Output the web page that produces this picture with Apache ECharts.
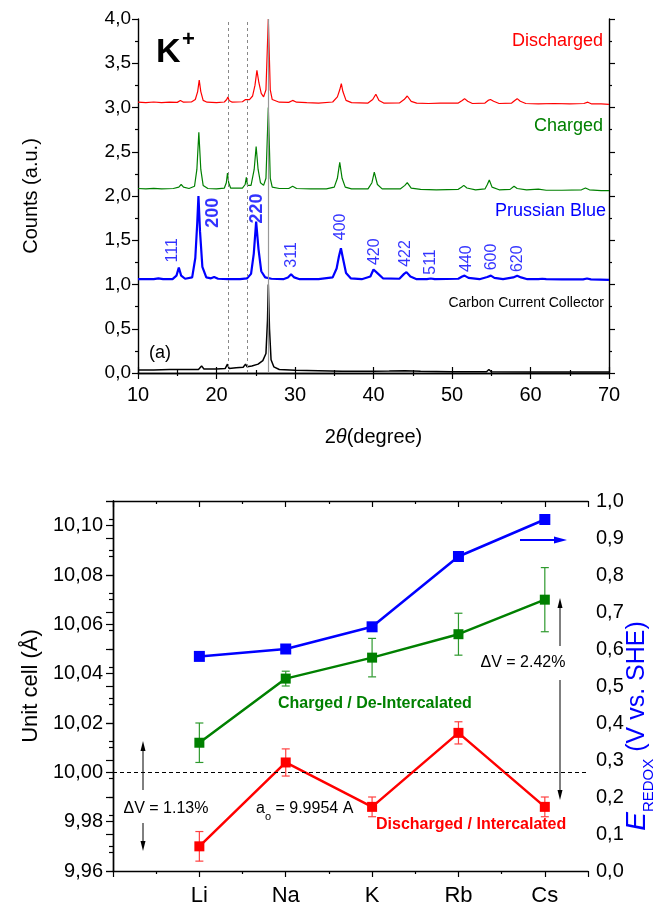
<!DOCTYPE html>
<html><head><meta charset="utf-8">
<script src="https://cdn.jsdelivr.net/npm/echarts@6/dist/echarts.min.js"></script>
<style>html,body{margin:0;padding:0;background:#fff}#c{width:661px;height:908px}</style>
</head><body><div id="c"></div>
<script>
const FONT = '"Liberation Sans", Arial, sans-serif';

// ---------- Panel (a): XRD patterns, [2theta, counts] ----------
const xrdDischarged = [[10,3.06],[11,3.055],[12,3.062],[13,3.055],[14,3.06],[15.0,3.058],[15.4,3.08],[15.8,3.06],[16.8,3.062],[17.3,3.09],[17.6,3.18],[17.8,3.31],[18.0,3.18],[18.3,3.08],[18.8,3.06],[20,3.055],[21.0,3.062],[21.3,3.09],[21.45,3.12],[21.6,3.08],[22,3.06],[23.3,3.065],[23.7,3.09],[23.9,3.1],[24.2,3.09],[24.6,3.13],[24.9,3.25],[25.15,3.42],[25.4,3.28],[25.7,3.16],[26.0,3.12],[26.3,3.2],[26.6,4.0],[26.85,3.2],[27.1,3.09],[28,3.06],[29.2,3.058],[29.7,3.08],[30.2,3.06],[31.5,3.055],[33,3.05],[34.8,3.062],[35.4,3.12],[35.7,3.2],[35.9,3.27],[36.1,3.18],[36.5,3.08],[37.2,3.055],[39.3,3.05],[39.9,3.09],[40.3,3.15],[40.7,3.08],[41.3,3.05],[43.3,3.052],[43.9,3.09],[44.3,3.13],[44.8,3.07],[45.5,3.05],[47,3.045],[48.5,3.05],[50.8,3.05],[51.3,3.08],[51.6,3.10],[52.0,3.07],[52.6,3.045],[54.2,3.05],[54.6,3.08],[54.9,3.09],[55.3,3.07],[56,3.045],[57.6,3.05],[58.0,3.08],[58.3,3.10],[58.7,3.07],[59.4,3.045],[61,3.04],[63,3.045],[65,3.04],[66.8,3.045],[67.3,3.06],[67.8,3.04],[69,3.04],[70,3.035]];
const xrdCharged = [[10,2.085],[11,2.08],[12,2.087],[13,2.08],[14.5,2.085],[15.2,2.1],[15.5,2.13],[15.8,2.1],[16.5,2.085],[17.2,2.11],[17.5,2.3],[17.75,2.72],[18.0,2.3],[18.3,2.12],[18.9,2.085],[20,2.08],[21.0,2.09],[21.25,2.15],[21.4,2.26],[21.55,2.15],[21.8,2.09],[23.3,2.09],[23.65,2.13],[23.8,2.21],[23.95,2.12],[24.4,2.12],[24.8,2.3],[25.05,2.56],[25.3,2.3],[25.6,2.15],[26.0,2.12],[26.3,2.2],[26.6,3.0],[26.85,2.2],[27.1,2.1],[28,2.085],[29.2,2.085],[29.7,2.11],[30.2,2.085],[32,2.08],[34,2.08],[35.0,2.1],[35.4,2.2],[35.7,2.38],[36.0,2.2],[36.4,2.1],[37.2,2.08],[39.3,2.08],[39.8,2.15],[40.1,2.27],[40.5,2.13],[41.1,2.08],[43.4,2.08],[44.0,2.12],[44.3,2.15],[44.8,2.09],[46,2.075],[48,2.07],[50.8,2.075],[51.2,2.1],[51.5,2.12],[51.9,2.09],[53,2.07],[54.2,2.08],[54.5,2.13],[54.75,2.18],[55.1,2.1],[56,2.07],[57.4,2.075],[57.9,2.11],[58.3,2.085],[59.5,2.07],[61,2.078],[62,2.065],[64,2.065],[66.5,2.07],[67.0,2.09],[67.5,2.07],[69,2.06],[70,2.06]];
const xrdPrussianBlue = [[10,1.06],[11,1.06],[12,1.06],[12.6,1.07],[13.2,1.06],[14.4,1.06],[14.9,1.1],[15.2,1.19],[15.5,1.1],[16.0,1.065],[16.9,1.08],[17.3,1.3],[17.55,1.7],[17.7,2.0],[17.9,1.6],[18.2,1.2],[18.7,1.08],[19.3,1.07],[19.7,1.085],[20.2,1.065],[21.5,1.06],[23,1.06],[23.9,1.07],[24.4,1.12],[24.75,1.35],[25.05,1.71],[25.35,1.4],[25.7,1.15],[26.2,1.08],[27,1.065],[28.5,1.06],[29.1,1.08],[29.5,1.115],[29.9,1.08],[30.6,1.06],[33,1.06],[34.8,1.08],[35.3,1.18],[35.6,1.32],[35.85,1.41],[36.1,1.3],[36.5,1.13],[37.1,1.07],[38.5,1.06],[39.6,1.09],[40.0,1.17],[40.25,1.19],[40.6,1.12],[41.2,1.07],[43.3,1.065],[43.9,1.12],[44.2,1.14],[44.7,1.09],[45.5,1.06],[46.8,1.06],[47.3,1.068],[47.8,1.06],[50.8,1.065],[51.3,1.09],[51.6,1.10],[52.1,1.075],[53.5,1.06],[54.5,1.085],[54.95,1.10],[55.4,1.075],[56.5,1.06],[57.8,1.08],[58.3,1.10],[58.8,1.08],[59.6,1.06],[61.0,1.06],[61.5,1.065],[62,1.06],[64,1.058],[66.7,1.058],[67.2,1.068],[67.7,1.058],[70,1.052]];
const xrdCarbon = [[10,0.035],[12,0.035],[14,0.04],[16,0.04],[17.7,0.04],[18.1,0.08],[18.4,0.045],[20,0.045],[21.1,0.05],[21.4,0.10],[21.6,0.05],[22.5,0.06],[23.4,0.065],[23.7,0.10],[23.9,0.07],[24.5,0.08],[25.3,0.1],[25.9,0.14],[26.3,0.22],[26.5,0.6],[26.6,1.0],[26.75,0.5],[26.95,0.15],[27.3,0.07],[28,0.04],[30,0.03],[33,0.025],[36,0.02],[40,0.02],[42,0.022],[44,0.025],[46,0.02],[50,0.015],[54.4,0.015],[54.7,0.04],[55.0,0.015],[60,0.012],[65,0.01],[70,0.01]];
// Miller indices: [label, 2theta of label, counts at label foot, bold]
const millerLabels = [['111',14.35,1.25,false],['200',19.55,1.64,true],['220',25.15,1.69,true],['311',29.6,1.19,false],['400',35.85,1.50,false],['420',40.2,1.22,false],['422',44.1,1.20,false],['511',47.3,1.11,false],['440',51.8,1.14,false],['600',55.1,1.16,false],['620',58.4,1.14,false]];
const refLines2Theta = [21.5, 23.9];
const carbonPeak2Theta = 26.6;
const xrdXTicks = [10, 70, 10];   // min, max, interval
const xrdYTicks = [0, 4, 0.5];

// ---------- Panel (b): unit cell and redox potential ----------
const categories = ['Li', 'Na', 'K', 'Rb', 'Cs'];
const chargedCell = [10.012, 10.038, 10.0465, 10.056, 10.070];
const chargedErr = [0.008, 0.003, 0.0078, 0.0085, 0.013];
const dischargedCell = [9.970, 10.004, 9.986, 10.016, 9.986];
const dischargedErr = [0.006, 0.0055, 0.004, 0.0045, 0.004];
const eRedox = [0.58, 0.60, 0.66, 0.85, 0.95];
const a0 = 9.9954;
const cellTicks = [9.96, 10.11, 0.02];
const redoxTicks = [0, 1.0, 0.1];

const comma = (v, d) => v.toFixed(d).replace('.', ',');
const axisCommon = { lineStyle: { color: '#000', width: 1.4 } };

function errBarSeries(vals, errs, color) {
  return {
    type: 'custom', xAxisIndex: 2, yAxisIndex: 2, z: 3, silent: true,
    data: vals.map((v, i) => [i + 1, v - errs[i], v + errs[i]]),
    encode: { x: 0, y: [1, 2] },
    renderItem: (params, api) => {
      const x = api.value(0);
      const lo = api.coord([x, api.value(1)]);
      const hi = api.coord([x, api.value(2)]);
      const hw = 4, st = { stroke: color, lineWidth: 1.2 };
      return { type: 'group', children: [
        { type: 'line', shape: { x1: lo[0], y1: lo[1], x2: hi[0], y2: hi[1] }, style: st },
        { type: 'line', shape: { x1: lo[0] - hw, y1: lo[1], x2: lo[0] + hw, y2: lo[1] }, style: st },
        { type: 'line', shape: { x1: hi[0] - hw, y1: hi[1], x2: hi[0] + hw, y2: hi[1] }, style: st }
      ] };
    }
  };
}
function vArrow(x, y1, y2, color) {
  const dir = y2 > y1 ? 1 : -1;
  return [
    { type: 'line', shape: { x1: x, y1: y1, x2: x, y2: y2 - dir * 8 }, style: { stroke: color, lineWidth: 1 } },
    { type: 'polygon', shape: { points: [[x, y2], [x - 2.5, y2 - dir * 10], [x + 2.5, y2 - dir * 10]] }, style: { fill: color } }
  ];
}
function txt(x, y, text, o, extra) {
  return Object.assign({ type: 'text', x: x, y: y, style: Object.assign({ text: text, fontFamily: FONT, fontSize: 18, fill: '#000', align: 'left', verticalAlign: 'middle' }, o || {}) }, extra || {});
}

const chart = echarts.init(document.getElementById('c'), null, { renderer: 'canvas' });
const option = {
  animation: false,
  backgroundColor: '#fff',
  textStyle: { fontFamily: FONT },
  grid: [
    { left: 138, top: 19, width: 471, height: 354 },
    { left: 113, top: 501, width: 475, height: 370 }
  ],
  xAxis: [
    { gridIndex: 0, type: 'value', position: 'bottom', min: xrdXTicks[0], max: xrdXTicks[1], interval: xrdXTicks[2],
      axisLine: axisCommon, splitLine: { show: false },
      axisTick: { length: 6, lineStyle: { color: '#000', width: 1.2 } },
      minorTick: { show: true, splitNumber: 2, length: 3, lineStyle: { color: '#000', width: 1.2 } },
      axisLabel: { fontSize: 20, color: '#000', margin: 12, fontFamily: FONT },
      name: '2{it|θ}(degree)', nameLocation: 'middle', nameGap: 54,
      nameTextStyle: { fontSize: 20, color: '#000', fontFamily: FONT, rich: { it: { fontStyle: 'italic', fontSize: 20, fontFamily: FONT } } } },
    { gridIndex: 0, type: 'value', position: 'top', min: xrdXTicks[0], max: xrdXTicks[1], interval: xrdXTicks[2],
      axisLine: axisCommon, splitLine: { show: false }, axisLabel: { show: false },
      axisTick: { length: 6, lineStyle: { color: '#000', width: 1.2 } },
      minorTick: { show: true, splitNumber: 2, length: 3, lineStyle: { color: '#000', width: 1.2 } } },
    { gridIndex: 1, type: 'value', position: 'bottom', min: 0, max: 5.5, interval: 1,
      axisLine: axisCommon, splitLine: { show: false },
      axisTick: { length: 6, lineStyle: { color: '#000', width: 1.2 } },
      minorTick: { show: true, splitNumber: 2, length: 3, lineStyle: { color: '#000', width: 1.2 } },
      axisLabel: { fontSize: 22, color: '#000', margin: 14, fontFamily: FONT,
        formatter: v => (Number.isInteger(v) && v >= 1 && v <= categories.length) ? categories[v - 1] : '' } },
    { gridIndex: 1, type: 'value', position: 'top', min: 0, max: 5.5, interval: 1,
      axisLine: axisCommon, splitLine: { show: false }, axisLabel: { show: false },
      axisTick: { inside: true, length: 6, lineStyle: { color: '#000', width: 1.2 } },
      minorTick: { show: true, splitNumber: 2, length: 3, lineStyle: { color: '#000', width: 1.2 } } }
  ],
  yAxis: [
    { gridIndex: 0, type: 'value', position: 'left', min: xrdYTicks[0], max: xrdYTicks[1], interval: xrdYTicks[2],
      axisLine: Object.assign({ show: true }, axisCommon), splitLine: { show: false },
      axisTick: { show: true, length: 6, lineStyle: { color: '#000', width: 1.2 } },
      minorTick: { show: true, splitNumber: 2, length: 3, lineStyle: { color: '#000', width: 1.2 } },
      axisLabel: { fontSize: 19, color: '#000', margin: 7, fontFamily: FONT, formatter: v => comma(v, 1) },
      name: 'Counts (a.u.)', nameLocation: 'middle', nameRotate: 90, nameGap: 97,
      nameTextStyle: { fontSize: 20, color: '#000', fontFamily: FONT } },
    { gridIndex: 0, type: 'value', position: 'right', min: xrdYTicks[0], max: xrdYTicks[1], interval: xrdYTicks[2],
      axisLine: Object.assign({ show: true }, axisCommon), splitLine: { show: false }, axisLabel: { show: false },
      axisTick: { show: true, length: 6, lineStyle: { color: '#000', width: 1.2 } },
      minorTick: { show: true, splitNumber: 2, length: 3, lineStyle: { color: '#000', width: 1.2 } } },
    { gridIndex: 1, type: 'value', position: 'left', min: cellTicks[0], max: cellTicks[1], interval: cellTicks[2],
      axisLine: Object.assign({ show: true }, axisCommon), splitLine: { show: false },
      axisTick: { show: true, length: 7, lineStyle: { color: '#000', width: 1.2 } },
      minorTick: { show: true, splitNumber: 2, length: 4, lineStyle: { color: '#000', width: 1.2 } },
      axisLabel: { fontSize: 20, color: '#000', margin: 10, fontFamily: FONT, showMaxLabel: false, formatter: v => comma(v, 2) },
      name: 'Unit cell (Å)', nameLocation: 'middle', nameRotate: 90, nameGap: 70,
      nameTextStyle: { fontSize: 22, color: '#000', fontFamily: FONT } },
    { gridIndex: 1, type: 'value', position: 'right', min: redoxTicks[0], max: redoxTicks[1], interval: redoxTicks[2],
      axisLine: Object.assign({ show: true }, axisCommon), splitLine: { show: false },
      axisTick: { show: true, inside: true, length: 7, lineStyle: { color: '#000', width: 1.2 } },
      minorTick: { show: true, splitNumber: 2, length: 4, lineStyle: { color: '#000', width: 1.2 } },
      axisLabel: { fontSize: 20, color: '#000', margin: 8, fontFamily: FONT, formatter: v => comma(v, 1) } }
  ],
  series: [
    { type: 'line', name: 'Discharged', xAxisIndex: 0, yAxisIndex: 0, data: xrdDischarged, showSymbol: false,
      lineStyle: { color: '#ff0000', width: 1.2 }, itemStyle: { color: '#ff0000' }, z: 3,
      markLine: { silent: true, symbol: 'none', label: { show: false },
        data: [
          ...refLines2Theta.map(v => ({ xAxis: v, lineStyle: { type: [3, 3], color: '#888', width: 1 } })),
          { xAxis: carbonPeak2Theta, lineStyle: { type: 'solid', color: '#999', width: 1.2 } }
        ] } },
    { type: 'line', name: 'Charged', xAxisIndex: 0, yAxisIndex: 0, data: xrdCharged, showSymbol: false,
      lineStyle: { color: '#008000', width: 1.2 }, itemStyle: { color: '#008000' }, z: 3 },
    { type: 'line', name: 'Prussian Blue', xAxisIndex: 0, yAxisIndex: 0, data: xrdPrussianBlue, showSymbol: false,
      lineStyle: { color: '#0000ff', width: 2.2 }, itemStyle: { color: '#0000ff' }, z: 3 },
    { type: 'line', name: 'Carbon Current Collector', xAxisIndex: 0, yAxisIndex: 0, data: xrdCarbon, showSymbol: false,
      lineStyle: { color: '#000', width: 1.5 }, itemStyle: { color: '#000' }, z: 3 },
    { type: 'scatter', xAxisIndex: 0, yAxisIndex: 0, symbolSize: 0, silent: true, z: 4,
      data: millerLabels.map(m => ({ name: m[0], value: [m[1], m[2]],
        label: { fontWeight: m[3] ? 'bold' : 'normal', fontSize: m[3] ? 18 : 16 } })),
      label: { show: true, position: [0, 0], rotate: 90, align: 'left', verticalAlign: 'middle',
        color: '#0000ff', fontFamily: FONT, formatter: p => p.name } },

    errBarSeries(chargedCell, chargedErr, '#2e9a2e'),
    errBarSeries(dischargedCell, dischargedErr, '#ff4040'),
    { type: 'line', name: 'Charged / De-Intercalated', xAxisIndex: 2, yAxisIndex: 2,
      data: chargedCell.map((v, i) => [i + 1, v]), symbol: 'rect', symbolSize: 10, z: 4,
      lineStyle: { color: '#008000', width: 2.5 }, itemStyle: { color: '#008000' } },
    { type: 'line', name: 'Discharged / Intercalated', xAxisIndex: 2, yAxisIndex: 2,
      data: dischargedCell.map((v, i) => [i + 1, v]), symbol: 'rect', symbolSize: 10, z: 4,
      lineStyle: { color: '#ff0000', width: 2.5 }, itemStyle: { color: '#ff0000' },
      markLine: { silent: true, symbol: 'none', label: { show: false },
        data: [{ yAxis: a0 }], lineStyle: { type: [4, 3], color: '#000', width: 1 } } },
    { type: 'line', name: 'E redox', xAxisIndex: 2, yAxisIndex: 3,
      data: eRedox.map((v, i) => [i + 1, v]), symbol: 'rect', symbolSize: 11, z: 4,
      lineStyle: { color: '#0000ff', width: 2.5 }, itemStyle: { color: '#0000ff' } }
  ],
  graphic: [
    // panel (a) annotations
    txt(156, 53, 'K', { fontSize: 34, fontWeight: 'bold' }),
    txt(182, 40, '+', { fontSize: 22, fontWeight: 'bold' }),
    txt(603, 41, 'Discharged', { align: 'right', fill: '#ff0000', fontSize: 18 }),
    txt(603, 126, 'Charged', { align: 'right', fill: '#008000', fontSize: 18 }),
    txt(606, 211, 'Prussian Blue', { align: 'right', fill: '#0000ff', fontSize: 18 }),
    txt(604, 303, 'Carbon Current Collector', { align: 'right', fontSize: 14 }),
    txt(160, 353, '(a)', { align: 'center', fontSize: 18 }),
    // panel (b) annotations
    txt(637, 726, '{e|E}{s|REDOX} (V vs. SHE)', { align: 'center', fill: '#0000ff', fontSize: 25,
      rich: { e: { fontStyle: 'italic', fontSize: 28, fill: '#0000ff', fontFamily: FONT, verticalAlign: 'middle', lineHeight: 38 },
              s: { fontSize: 15, fill: '#0000ff', fontFamily: FONT, verticalAlign: 'bottom', lineHeight: 38 } } },
      { rotation: Math.PI / 2 }),
    txt(278, 704, 'Charged / De-Intercalated', { fill: '#008000', fontWeight: 'bold', fontSize: 16 }),
    txt(376, 825, 'Discharged / Intercalated', { fill: '#ff0000', fontWeight: 'bold', fontSize: 16 }),
    txt(523, 663, 'ΔV = 2.42%', { align: 'center', fontSize: 16 }),
    txt(166, 809, 'ΔV = 1.13%', { align: 'center', fontSize: 16 }),
    txt(256, 809, 'a{s|o} = 9.9954 A', { fontSize: 16,
      rich: { s: { fontSize: 11, fontFamily: FONT, verticalAlign: 'bottom', lineHeight: 26 } } }),
    ...vArrow(560, 646, 598, '#000'),
    ...vArrow(560, 680, 800, '#000'),
    ...vArrow(143, 790, 741, '#000'),
    ...vArrow(143, 823, 851, '#000'),
    { type: 'line', shape: { x1: 520, y1: 540, x2: 556, y2: 540 }, style: { stroke: '#0000ff', lineWidth: 2 } },
    { type: 'polygon', shape: { points: [[567, 540], [554, 536.5], [554, 543.5]] }, style: { fill: '#0000ff' } }
  ]
};
chart.setOption(option);
</script>
</body></html>
